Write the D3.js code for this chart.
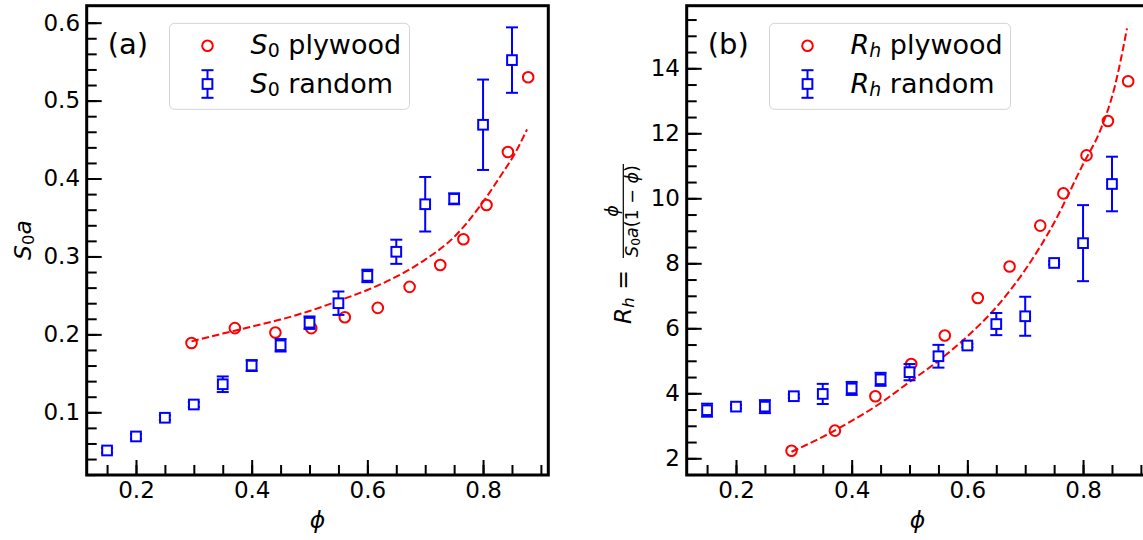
<!DOCTYPE html>
<html>
<head>
<meta charset="utf-8">
<script src="https://cdn.jsdelivr.net/npm/d3@7"></script>
<style>
body{margin:0;background:#fff;}
svg text{font-family:"DejaVu Sans",sans-serif;fill:#000;}
</style>
</head>
<body>
<div id="chart"></div>
<script>
// random packings, phi = 0.15 ... 0.85
const randomPhi = [0.15,0.20,0.25,0.30,0.35,0.40,0.45,0.50,0.55,0.60,0.65,0.70,0.75,0.80,0.85];
const randomS0 = [0.051,0.069,0.093,0.110,0.136,0.160,0.186,0.215,0.240,0.275,0.306,0.367,0.374,0.469,0.552];
const randomS0Err = [0.003,0.003,0.003,0.003,0.010,0.007,0.008,0.008,0.015,0.008,0.0155,0.035,0.007,0.058,0.042];
const randomRh = [3.48,3.59,3.59,3.91,3.98,4.15,4.43,4.65,5.14,5.47,6.13,6.37,8.01,8.62,10.44];
const randomRhErr = [0.20,0.05,0.20,0.05,0.31,0.20,0.20,0.25,0.35,0.05,0.34,0.60,0.05,1.17,0.84];

// plywood packings
const plyPhi = [0.296,0.371,0.441,0.503,0.561,0.618,0.673,0.726,0.766,0.806,0.843,0.878];
const plyS0 = [0.189,0.208,0.2025,0.208,0.222,0.234,0.261,0.289,0.322,0.366,0.434,0.530];
const plyRh = [2.23,2.85,3.91,4.90,5.78,6.93,7.90,9.16,10.15,11.32,12.38,13.60];

// dashed fit
const fitPhi = [0.296,0.35,0.40,0.45,0.50,0.55,0.60,0.65,0.70,0.75,0.80,0.83,0.855,0.876];
const fitS0 = [0.191,0.201,0.210,0.219,0.230,0.243,0.257,0.274,0.296,0.325,0.370,0.403,0.432,0.463];
const fitRh = [2.20,2.66,3.15,3.70,4.35,5.00,5.75,6.65,7.80,9.25,11.05,12.10,13.45,15.23];

// ticks
const phiTicks = [0.2,0.4,0.6,0.8];
const s0Ticks = [0.1,0.2,0.3,0.4,0.5,0.6];
const rhTicks = [2,4,6,8,10,12,14];

const width = 1143, height = 540;
const plotTop = 5.7, plotBottom = 475, plotW = 461.6;
const phiDomain = [0.1148,0.9128];

const svg = d3.select("#chart").append("svg")
  .attr("width",width).attr("height",height);

function styleAxis(sel){
  sel.select(".domain").remove();
  sel.selectAll(".tick line").attr("stroke","#000").attr("stroke-width",2);
  sel.selectAll(".tick text").attr("font-size","23px")
    .attr("font-family","DejaVu Sans").attr("fill","#000");
}

// S_0 / R_h style label pieces
function subLabel(text, letter, sub, size, subItalic){
  text.append("tspan").attr("font-style","italic").text(letter);
  text.append("tspan").attr("font-size",(size*0.7)+"px")
    .attr("font-style",subItalic ? "italic" : "normal")
    .attr("dy",size*0.12).text(sub);
  return text;
}

function panel(p){
  const x = d3.scaleLinear().domain(phiDomain).range([p.left,p.left+plotW]);
  const y = d3.scaleLinear().domain(p.yDomain).range([plotBottom,plotTop]);
  const g = svg.append("g");

  // minor ticks
  g.append("g").attr("transform",`translate(0,${plotBottom})`)
    .call(d3.axisBottom(x).tickValues(d3.range(3,19).map(i=>i*0.05))
      .tickSize(-10).tickFormat(""))
    .call(styleAxis);
  g.append("g").attr("transform",`translate(${p.left},0)`)
    .call(d3.axisLeft(y).tickValues(p.minor).tickSize(-10).tickFormat(""))
    .call(styleAxis);
  // major ticks
  g.append("g").attr("transform",`translate(0,${plotBottom})`)
    .call(d3.axisBottom(x).tickValues(phiTicks).tickSize(-15)
      .tickPadding(6.4).tickFormat(d3.format(".1f")))
    .call(styleAxis);
  g.append("g").attr("transform",`translate(${p.left},0)`)
    .call(d3.axisLeft(y).tickValues(p.ticks).tickSize(-15)
      .tickPadding(6.7).tickFormat(p.fmt))
    .call(styleAxis);

  // plywood circles
  g.append("g").selectAll("circle").data(plyPhi).enter().append("circle")
    .attr("cx",d=>x(d))
    .attr("cy",(d,i)=>y(p.ply[i]))
    .attr("r",5.3)
    .attr("fill","none").attr("stroke","red").attr("stroke-width",2);

  // fit
  g.append("path").datum(fitPhi)
    .attr("d",d3.line().x(d=>x(d)).y((d,i)=>y(p.fit[i])).curve(d3.curveMonotoneX))
    .attr("fill","none").attr("stroke","red").attr("stroke-width",2)
    .attr("stroke-dasharray","7.4,3.2");

  // random with error bars
  const eb = g.append("g").selectAll("g").data(randomPhi).enter().append("g");
  eb.append("line")
    .attr("x1",d=>x(d)).attr("x2",d=>x(d))
    .attr("y1",(d,i)=>y(p.rnd[i]-p.err[i]))
    .attr("y2",(d,i)=>y(p.rnd[i]+p.err[i]))
    .attr("stroke","blue").attr("stroke-width",2);
  [-1,1].forEach(s=>{
    eb.append("line")
      .attr("x1",d=>x(d)-6).attr("x2",d=>x(d)+6)
      .attr("y1",(d,i)=>y(p.rnd[i]+s*p.err[i]))
      .attr("y2",(d,i)=>y(p.rnd[i]+s*p.err[i]))
      .attr("stroke","blue").attr("stroke-width",2);
  });
  eb.append("rect")
    .attr("x",d=>x(d)-4.85)
    .attr("y",(d,i)=>y(p.rnd[i])-4.85)
    .attr("width",9.7).attr("height",9.7)
    .attr("fill","#fff").attr("stroke","blue").attr("stroke-width",2);

  // spines
  g.append("rect")
    .attr("x",p.left).attr("y",plotTop)
    .attr("width",plotW).attr("height",plotBottom-plotTop)
    .attr("fill","none").attr("stroke","#000").attr("stroke-width",3);

  // panel tag
  g.append("text").attr("x",p.left+21).attr("y",54)
    .attr("font-size","29px").text(p.tag);

  // legend
  const lx = p.left+82.8, ly = 23.3;
  const lg = g.append("g");
  lg.append("rect").attr("x",lx).attr("y",ly)
    .attr("width",p.legendW).attr("height",86).attr("rx",5)
    .attr("fill","#fff").attr("fill-opacity",0.8)
    .attr("stroke","#d4d4d4").attr("stroke-width",1);
  lg.append("circle").attr("cx",lx+38).attr("cy",45.7).attr("r",5.3)
    .attr("fill","none").attr("stroke","red").attr("stroke-width",2);
  lg.append("line").attr("x1",lx+38).attr("x2",lx+38).attr("y1",70.2).attr("y2",97.8)
    .attr("stroke","blue").attr("stroke-width",2);
  [70.2,97.8].forEach(yy=>lg.append("line")
    .attr("x1",lx+32).attr("x2",lx+44).attr("y1",yy).attr("y2",yy)
    .attr("stroke","blue").attr("stroke-width",2));
  lg.append("rect").attr("x",lx+38-4.85).attr("y",84-4.85)
    .attr("width",9.7).attr("height",9.7)
    .attr("fill","#fff").attr("stroke","blue").attr("stroke-width",2);
  ["plywood","random"].forEach((name,i)=>{
    const t = lg.append("text").attr("x",lx+81).attr("y",54+i*38.5).attr("font-size","27px");
    subLabel(t,p.sym,p.symSub,27,p.subItalic);
    t.append("tspan").attr("dy",-27*0.12).text(" "+name);
  });

  // x label
  g.append("text").attr("x",p.left+plotW/2).attr("y",528)
    .attr("text-anchor","middle").attr("font-size","23.5px")
    .attr("font-style","italic").text("\u03d5");
}

panel({left:86.7, yDomain:[0.01953,0.6218], ticks:s0Ticks,
  minor:d3.range(1,31).map(i=>i*0.02), fmt:d3.format(".1f"),
  ply:plyS0, fit:fitS0, rnd:randomS0, err:randomS0Err,
  tag:"(a)", sym:"S", symSub:"0", subItalic:false, legendW:240});

panel({left:686.7, yDomain:[1.486,15.926], ticks:rhTicks,
  minor:d3.range(3,32).map(i=>i*0.5), fmt:d3.format("d"),
  ply:plyRh, fit:fitRh, rnd:randomRh, err:randomRhErr,
  tag:"(b)", sym:"R", symSub:"h", subItalic:true, legendW:241});

// left y label: S_0 a
const yl = svg.append("text").attr("transform","translate(31,240) rotate(-90)")
  .attr("text-anchor","middle").attr("font-size","23.5px");
subLabel(yl,"S","0",23.5,false);
yl.append("tspan").attr("dy",-23.5*0.12).attr("font-style","italic").text("a");

// right y label: R_h = phi / (S_0 a (1 - phi))
const rl = svg.append("g").attr("transform","translate(623.3,240) rotate(-90)");
const rh = rl.append("text").attr("x",-84).attr("y",8).attr("font-size","23.5px");
subLabel(rh,"R","h",23.5,true);
rl.append("text").attr("x",-40).attr("y",8).attr("text-anchor","middle")
  .attr("font-size","23.5px").text("=");
rl.append("line").attr("x1",-18).attr("x2",76).attr("y1",0).attr("y2",0)
  .attr("stroke","#000").attr("stroke-width",1.2);
rl.append("text").attr("x",29).attr("y",-5).attr("text-anchor","middle")
  .attr("font-size","17.5px").attr("font-style","italic").text("\u03d5");
const den = rl.append("text").attr("x",29).attr("y",15).attr("text-anchor","middle")
  .attr("font-size","17.5px");
subLabel(den,"S","0",17.5,false);
den.append("tspan").attr("dy",-17.5*0.12).attr("font-style","italic").text("a");
den.append("tspan").text("(1 \u2212 ");
den.append("tspan").attr("font-style","italic").text("\u03d5");
den.append("tspan").text(")");
</script>
</body>
</html>
